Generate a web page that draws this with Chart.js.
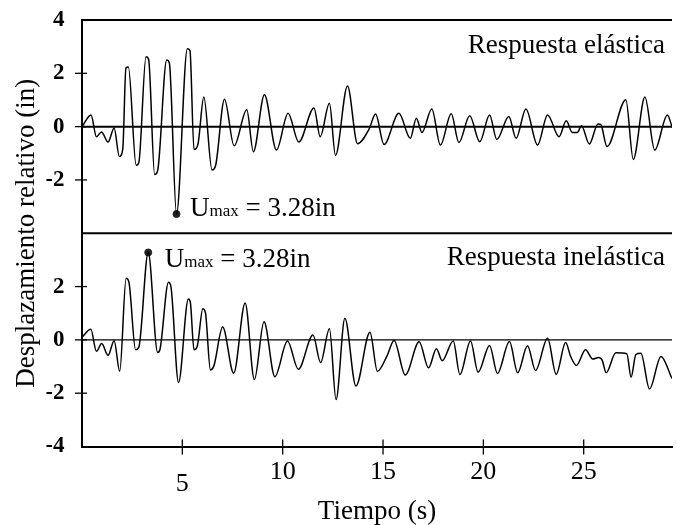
<!DOCTYPE html>
<html lang="es">
<head>
<meta charset="utf-8">
<title>Respuesta elástica e inelástica</title>
<script src="https://cdn.jsdelivr.net/npm/chart.js@4.4.1/dist/chart.umd.min.js"></script>
<style>
  html, body { margin: 0; padding: 0; background: #fff; }
  canvas { display: block; }
</style>
</head>
<body>
<canvas id="myChart" width="677" height="525"></canvas>
<script>
// desplazamiento relativo (in) contra tiempo (s)
var TIME_EL = [0.00, 0.45, 0.72, 0.97, 1.30, 1.60, 1.86, 2.03, 2.19, 2.31, 2.70, 2.83, 3.19, 3.32, 3.62, 3.77,
  4.22, 4.35, 4.71, 5.25, 5.38, 5.58, 5.78, 6.07, 6.48, 6.66, 7.10, 7.58, 8.21, 8.54, 9.09, 9.69,
  10.27, 10.80, 11.56, 11.87, 12.33, 12.63, 13.23, 13.73, 14.30, 14.63, 15.05, 15.79, 16.36, 16.66,
  16.94, 17.43, 17.86, 18.40, 18.78, 19.32, 19.82, 20.31, 20.67, 21.27, 21.63, 22.12, 22.70, 23.20,
  23.77, 24.13, 24.43, 24.68, 24.89, 25.28, 25.71, 25.85, 26.16, 27.10, 27.47, 28.05, 28.54, 29.17, 29.40];
var DISP_EL = [0.00, 0.44, -0.38, -0.20, -0.58, -0.05, -1.12, -0.85, 2.20, 2.24, -1.45, -1.35, 2.62, 2.52, -1.80, -1.65,
  2.50, 2.40, -3.28, 2.92, 2.85, -0.86, -0.65, 1.11, -1.63, -1.45, 1.03, -0.72, 0.63, -0.94, 1.20, -0.88,
  0.50, -0.58, 0.70, -0.38, 0.88, -1.08, 1.52, -0.64, -0.10, 0.47, -0.67, 0.50, -0.44, 0.31,
  -0.22, 0.66, -0.69, 0.48, -0.60, 0.41, -0.57, 0.44, -0.48, 0.38, -0.44, 0.66, -0.69, 0.44,
  -0.38, 0.22, -0.22, -0.22, 0.03, -0.65, 0.10, 0.08, -0.75, 1.01, -1.23, 1.11, -0.88, 0.44, 0.00];

var TIME_IN = [0.00, 0.44, 0.72, 0.98, 1.30, 1.60, 1.88, 2.20, 2.34, 2.67, 2.83, 3.30, 3.77, 3.88, 4.31, 4.43,
  4.81, 5.30, 5.40, 5.58, 5.75, 6.02, 6.15, 6.40, 6.57, 7.01, 7.56, 8.13, 8.59, 9.07, 9.61, 10.24,
  10.78, 11.51, 11.89, 12.33, 12.66, 13.10, 13.65, 14.35, 14.72, 15.20, 15.55, 16.11, 16.80, 17.27,
  17.66, 17.95, 18.50, 18.83, 19.36, 19.74, 20.31, 20.70, 21.30, 21.71, 22.20, 22.60, 23.20, 23.63,
  24.10, 24.35, 24.64, 25.09, 25.45, 25.75, 25.92, 26.12, 26.60, 27.15, 27.36, 27.60, 27.85, 28.28, 28.85, 29.40];
var DISP_IN = [0.10, 0.40, -0.43, -0.14, -0.58, -0.03, -1.18, 2.31, 2.16, -0.37, -0.28, 3.28, -0.47, -0.37, 2.16, 2.00,
  -1.60, 1.53, 1.40, -0.37, -0.22, 1.17, 1.02, -1.13, -0.98, 0.48, -1.25, 1.38, -1.49, 0.68, -1.38, -0.04,
  -1.10, 0.18, -0.85, 0.42, -2.24, 0.81, -1.73, 0.29, -1.18, -0.60, -0.02, -1.32, -0.07, -1.05,
  -0.33, -0.78, -0.04, -1.30, -0.04, -1.21, -0.21, -1.26, -0.06, -1.23, -0.22, -1.15, 0.06, -1.29,
  -0.10, -0.62, -0.96, -0.37, -0.72, -0.66, -0.76, -1.23, -0.48, -0.52, -1.40, -0.55, -0.50, -1.84, -0.62, -1.45];

var U_MAX = 3.28;
var T_MAX_EL = 4.71;   // maximo elastico (hacia abajo)
var T_MAX_IN = 3.30;   // maximo inelastico (hacia arriba)

var X_TICKS = [5, 10, 15, 20, 25];
var TOP_TICKS = [-2, 0, 2, 4];
var BOTTOM_TICKS = [-4, -2, 0, 2];
var PANEL_TITLES = ['Respuesta elástica', 'Respuesta inelástica'];

var SERIF = "'Liberation Serif', 'Times New Roman', serif";
Chart.defaults.font.family = SERIF;
Chart.defaults.color = '#000';

function toPoints(ts, us) {
  return ts.map(function (t, i) { return {x: t, y: us[i]}; });
}

function fixedTicks(values) {
  return function (scale) {
    scale.ticks = values.map(function (v) { return {value: v}; });
  };
}

function stroke(ctx, x1, y1, x2, y2, w) {
  ctx.lineWidth = w;
  ctx.beginPath();
  ctx.moveTo(x1, y1);
  ctx.lineTo(x2, y2);
  ctx.stroke();
}

// bordes de cada panel, linea de cero y marcas que cruzan los ejes
var panelFrame = {
  id: 'panelFrame',
  beforeDatasetsDraw: function (chart) {
    var ctx = chart.ctx, a = chart.chartArea, s = chart.scales;
    ctx.save();
    ctx.strokeStyle = '#000';
    ['yTop', 'yBot'].forEach(function (id) {
      var sc = s[id];
      stroke(ctx, a.left, sc.top, a.right, sc.top, 2);
      var y0 = sc.getPixelForValue(0);
      stroke(ctx, a.left, y0, a.right, y0, id === 'yTop' ? 2 : 1.2);
      sc.ticks.forEach(function (t) {
        if (Math.abs(t.value) >= 4) return;
        var y = sc.getPixelForValue(t.value);
        stroke(ctx, a.left - 7, y, a.left + 5, y, 1.3);
      });
    });
    s.x.ticks.forEach(function (t) {
      var x = s.x.getPixelForValue(t.value);
      stroke(ctx, x, a.bottom - 7, x, a.bottom + 8, 1.3);
    });
    ctx.restore();
  }
};

function drawUmax(ctx, x, y) {
  ctx.textAlign = 'left';
  ctx.textBaseline = 'alphabetic';
  ctx.font = '27px ' + SERIF;
  ctx.fillText('U', x, y);
  x += ctx.measureText('U').width;
  ctx.font = '17px ' + SERIF;
  ctx.fillText('max', x, y);
  x += ctx.measureText('max').width;
  ctx.font = '27px ' + SERIF;
  ctx.fillText(' = ' + U_MAX.toFixed(2) + 'in', x, y);
}

// titulos de panel y valor maximo junto a su punto
var panelNotes = {
  id: 'panelNotes',
  afterDatasetsDraw: function (chart) {
    var ctx = chart.ctx, a = chart.chartArea, s = chart.scales;
    ctx.save();
    ctx.fillStyle = '#000';
    ctx.font = '27px ' + SERIF;
    ctx.textAlign = 'right';
    ctx.textBaseline = 'alphabetic';
    ctx.fillText(PANEL_TITLES[0], a.right - 7, s.yTop.top + 33);
    ctx.fillText(PANEL_TITLES[1], a.right - 7, s.yBot.top + 32);
    var pEl = chart.getDatasetMeta(2).data[0];
    var pIn = chart.getDatasetMeta(3).data[0];
    drawUmax(ctx, pEl.x + 13.5, pEl.y + 2);
    drawUmax(ctx, pIn.x + 16.5, pIn.y + 14.5);
    ctx.restore();
  }
};

function panelAxis(ticks) {
  return {
    type: 'linear',
    position: 'left',
    stack: 'panels',
    stackWeight: 1,
    min: -4,
    max: 4,
    afterBuildTicks: fixedTicks(ticks),
    afterFit: function (scale) {
      scale.width = 35.6;
      scale.paddingTop = 0;
      scale.paddingBottom = 0;
    },
    grid: {display: false, drawTicks: false},
    border: {display: true, color: '#000', width: 2},
    ticks: {
      padding: 17.5,
      font: {size: 23, weight: 'bold'},
      callback: function (v) { return String(v); }
    }
  };
}

var ctx = document.getElementById('myChart').getContext('2d');
var myChart = new Chart(ctx, {
  type: 'line',
  data: {
    datasets: [{
      label: 'Respuesta elástica',
      data: toPoints(TIME_EL, DISP_EL),
      yAxisID: 'yTop',
      borderColor: '#000',
      borderWidth: 1.5,
      pointRadius: 0,
      cubicInterpolationMode: 'monotone'
    }, {
      label: 'Respuesta inelástica',
      data: toPoints(TIME_IN, DISP_IN),
      yAxisID: 'yBot',
      borderColor: '#000',
      borderWidth: 1.5,
      pointRadius: 0,
      cubicInterpolationMode: 'monotone'
    }, {
      label: 'Umax elástico',
      data: [{x: T_MAX_EL, y: -U_MAX}],
      yAxisID: 'yTop',
      showLine: false,
      pointRadius: 3.5,
      pointBackgroundColor: '#222',
      pointBorderColor: '#222'
    }, {
      label: 'Umax inelástico',
      data: [{x: T_MAX_IN, y: U_MAX}],
      yAxisID: 'yBot',
      showLine: false,
      pointRadius: 3.5,
      pointBackgroundColor: '#222',
      pointBorderColor: '#222'
    }]
  },
  options: {
    responsive: false,
    animation: false,
    layout: {padding: {top: 20, right: 0, bottom: 0, left: 8}},
    plugins: {
      legend: {display: false},
      tooltip: {enabled: false},
      title: {
        display: true,
        position: 'left',
        fullSize: false,
        text: 'Desplazamiento relativo (in)',
        color: '#000',
        font: {size: 27, weight: 'normal'},
        padding: {top: 3, bottom: 3}
      }
    },
    scales: {
      x: {
        type: 'linear',
        min: 0,
        max: 29.4,
        afterBuildTicks: fixedTicks(X_TICKS),
        afterFit: function (scale) {
          scale.height = 78.5;
          scale.paddingLeft = 0;
          scale.paddingRight = 0;
        },
        grid: {display: false, drawTicks: false},
        border: {display: true, color: '#000', width: 2},
        ticks: {
          padding: 10,
          maxRotation: 0,
          // el 5 va algo mas abajo que el resto
          font: function (c) {
            return {size: 26, lineHeight: c.tick && c.tick.value === 5 ? 0.7 : 1.2};
          },
          callback: function (v) { return v === 5 ? ['', '5'] : String(v); }
        },
        title: {
          display: true,
          text: 'Tiempo (s)',
          color: '#000',
          font: {size: 27, lineHeight: 1.0},
          padding: {top: 0, bottom: 0}
        }
      },
      // los ejes apilados se colocan de abajo hacia arriba en orden de definicion
      yBot: panelAxis(BOTTOM_TICKS),
      yTop: panelAxis(TOP_TICKS)
    }
  },
  plugins: [panelFrame, panelNotes]
});
</script>
</body>
</html>
